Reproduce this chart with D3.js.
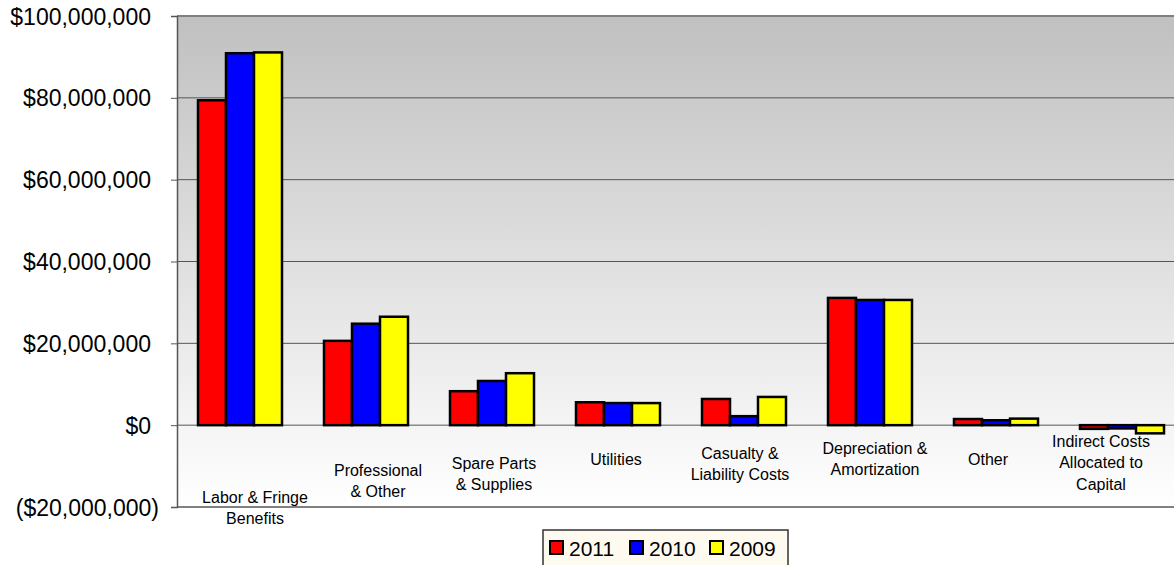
<!DOCTYPE html>
<html>
<head>
<meta charset="utf-8">
<script src="https://cdn.jsdelivr.net/npm/d3@7"></script>
<style>
  body { margin: 0; background: #fff; }
  text { font-family: "Liberation Sans", Arial, sans-serif; fill: #000; }
</style>
</head>
<body>
<svg width="1174" height="565"></svg>
<script>
// data
const categories = [
  ['Labor & Fringe', 'Benefits'],
  ['Professional', '& Other'],
  ['Spare Parts', '& Supplies'],
  ['Utilities'],
  ['Casualty &', 'Liability Costs'],
  ['Depreciation &', 'Amortization'],
  ['Other'],
  ['Indirect Costs', 'Allocated to', 'Capital']
];
const years = ['2011', '2010', '2009'];
const v2011 = [79.4e6, 20.6e6, 8.3e6, 5.6e6, 6.4e6, 31.1e6, 1.5e6, -0.9e6];
const v2010 = [90.9e6, 24.8e6, 10.8e6, 5.4e6, 2.2e6, 30.6e6, 1.2e6, -0.8e6];
const v2009 = [91.1e6, 26.5e6, 12.7e6, 5.4e6, 6.9e6, 30.6e6, 1.6e6, -2.0e6];
const yTicks = [-20e6, 0, 20e6, 40e6, 60e6, 80e6, 100e6];
const colors = ['#ff0000', '#0000ff', '#ffff00'];

const series = [v2011, v2010, v2009];

const svg = d3.select('svg');
const plotL = 177, plotR = 1185, plotT = 16, plotB = 507;

const x = d3.scaleBand().domain(d3.range(categories.length)).range([plotL, plotR]);
const xs = d3.scaleBand().domain(years).range([21, 105]);
const y = d3.scaleLinear().domain([-20e6, 100e6]).range([plotB, plotT]);

// plot background gradient
const grad = svg.append('defs').append('linearGradient')
  .attr('id', 'bg').attr('x1', 0).attr('y1', 0).attr('x2', 0).attr('y2', 1);
grad.append('stop').attr('offset', '0%').attr('stop-color', '#c0c0c0');
grad.append('stop').attr('offset', '100%').attr('stop-color', '#ffffff');

svg.append('rect')
  .attr('x', plotL).attr('y', plotT)
  .attr('width', plotR - plotL).attr('height', plotB - plotT)
  .attr('fill', 'url(#bg)');

// gridlines
svg.append('g').selectAll('line')
  .data(yTicks.filter(d => d > -20e6 && d < 100e6))
  .join('line')
  .attr('x1', plotL).attr('x2', plotR)
  .attr('y1', d => y(d)).attr('y2', d => y(d))
  .attr('stroke', '#555').attr('stroke-width', 1);

// top + bottom borders
svg.append('line').attr('x1', plotL).attr('x2', plotR).attr('y1', plotT).attr('y2', plotT)
  .attr('stroke', '#808080').attr('stroke-width', 2);
svg.append('line').attr('x1', plotL).attr('x2', plotR).attr('y1', plotB).attr('y2', plotB)
  .attr('stroke', '#808080').attr('stroke-width', 2);

// bars
const groups = svg.append('g').selectAll('g')
  .data(categories)
  .join('g')
  .attr('transform', (d, i) => `translate(${x(i)},0)`);

groups.selectAll('rect')
  .data((d, i) => years.map((yr, k) => ({yr, k, v: series[k][i]})))
  .join('rect')
  .attr('x', d => xs(d.yr))
  .attr('width', xs.bandwidth())
  .attr('y', d => y(Math.max(0, d.v)))
  .attr('height', d => Math.abs(y(d.v) - y(0)))
  .attr('fill', d => colors[d.k])
  .attr('stroke', '#000').attr('stroke-width', 2.5);

// y axis
const fmt = d => d < 0 ? '($' + d3.format(',')(-d) + ')' : '$' + d3.format(',')(d);
const yAxis = svg.append('g')
  .attr('transform', `translate(${plotL},0)`)
  .call(d3.axisLeft(y).tickValues(yTicks).tickSize(6).tickPadding(0).tickFormat(fmt));
yAxis.select('.domain').attr('stroke', '#555').attr('stroke-width', 1.5);
yAxis.selectAll('.tick line').attr('stroke', '#555');
yAxis.selectAll('.tick text')
  .attr('font-size', 23)
  .attr('font-family', '"Liberation Sans", Arial, sans-serif')
  .attr('x', d => d < 0 ? -18 : -26)
  .attr('dy', '0.35em');

// category labels, placed the way Excel placed them
const labelY = [497, 470, 463, 459, 453, 448, 459, 441];
const labelDx = [15, 12, 2, -2, -4, 5, -8, -21];
groups.append('text')
  .attr('text-anchor', 'middle')
  .attr('font-size', 16)
  .selectAll('tspan')
  .data((d, i) => d.map(line => ({line, i})))
  .join('tspan')
  .attr('x', d => x.bandwidth() / 2 + labelDx[d.i])
  .attr('y', (d, j) => labelY[d.i] + 5.5 + j * 21.5)
  .text(d => d.line);

// legend
const legend = svg.append('g').attr('transform', 'translate(543,530)');
legend.append('rect')
  .attr('width', 245).attr('height', 40)
  .attr('fill', '#fffaf0').attr('stroke', '#333').attr('stroke-width', 1.5);
const items = legend.selectAll('g.item')
  .data(years)
  .join('g')
  .attr('transform', (d, i) => `translate(${7 + i * 80},11)`);
items.append('rect')
  .attr('width', 13).attr('height', 13)
  .attr('fill', (d, i) => colors[i])
  .attr('stroke', '#000').attr('stroke-width', 2);
items.append('text')
  .attr('x', 19).attr('y', 14.5)
  .attr('font-size', 21)
  .text(d => d);
</script>
</body>
</html>
